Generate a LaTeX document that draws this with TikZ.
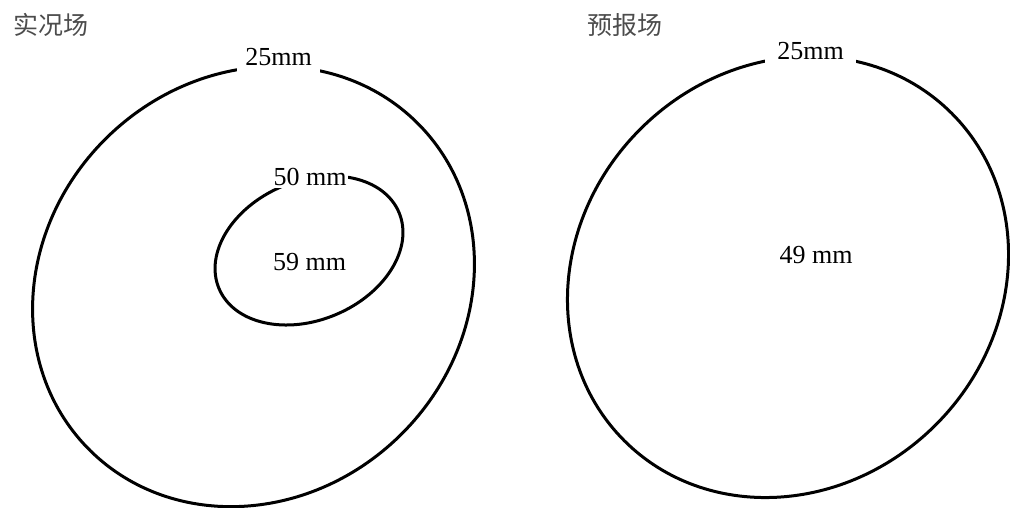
\documentclass[tikz,border=0pt]{standalone}
\usepackage{fontspec}
\setmainfont{Liberation Serif}
\newfontfamily\cjk{Noto Sans CJK SC}
\begin{document}
\begin{tikzpicture}[x=1pt,y=1pt,
  contour/.style={line width=3pt},
  lbl/.style={font=\fontsize{26}{26}\selectfont, text height=17.6pt, text depth=0pt, inner sep=0pt},
  gaplbl/.style={lbl, fill=white},
  titlelbl/.style={font=\cjk\fontsize{25}{25}\selectfont, text=black!70, inner sep=0pt}]
\useasboundingbox (0,0) rectangle (1010,-507);
% left outer contour
\draw[contour, rotate around={44:(253.5,-286.5)}] (253.5,-286.5) ellipse [x radius=231.5, y radius=209];
% inner contour
\draw[contour, rotate around={23:(309,-250.5)}] (309,-250.5) ellipse [x radius=97.7, y radius=69.5];
% right contour
\draw[contour, rotate around={45:(788,-277)}] (788,-277) ellipse [x radius=231.5, y radius=209];
% labels
\node[titlelbl] (t1) at (50.5,-24.5) {实况场};
\node[titlelbl] (t2) at (625,-25.5) {预报场};
\node[gaplbl, inner xsep=8.5pt, inner ysep=9pt] (l25) at (278.5,-57) {25mm};
\node[gaplbl, inner xsep=2pt, inner ysep=3pt] (l50) at (310,-176.5) {50 mm};
\node[lbl] (l59) at (309.5,-262) {59 mm};
\node[gaplbl, inner xsep=12pt, inner ysep=5pt] (r25) at (810.5,-51) {25mm};
\node[lbl] (r49) at (816,-254.5) {49 mm};
\end{tikzpicture}
\end{document}
